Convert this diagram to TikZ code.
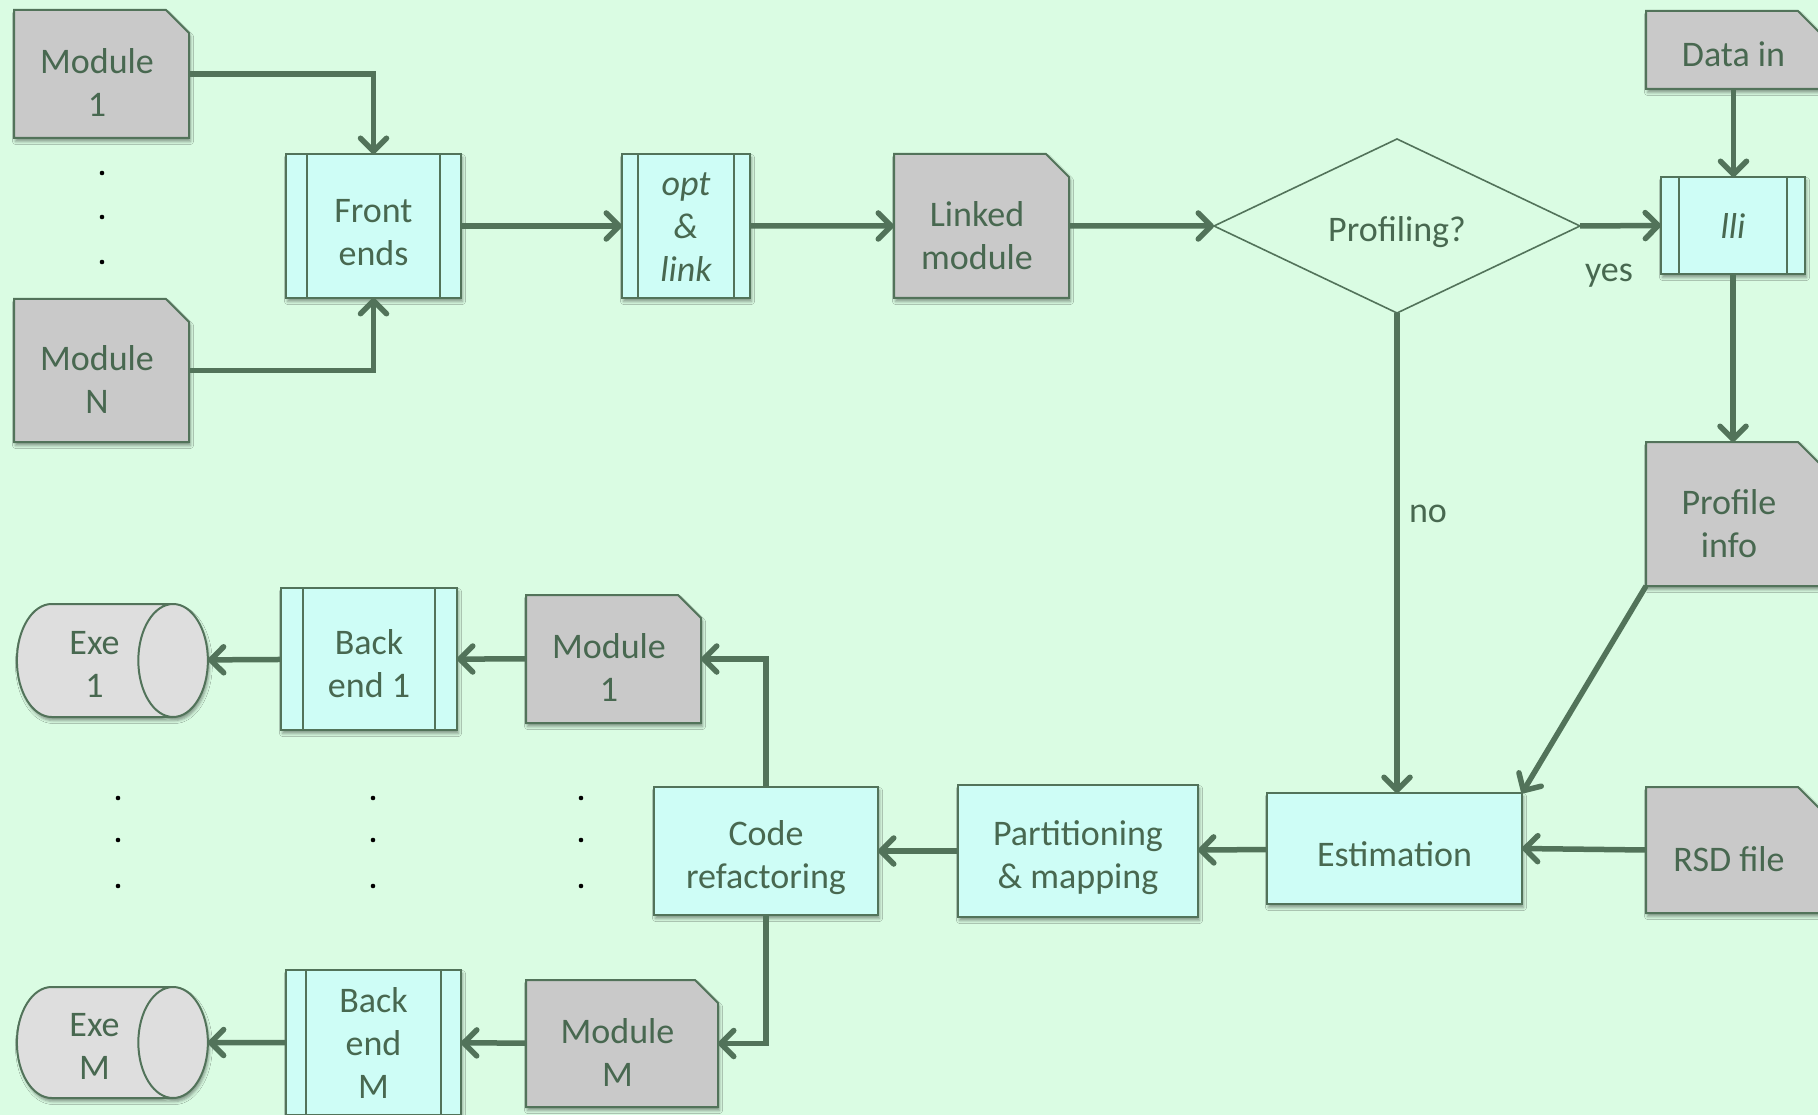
\documentclass[tikz,border=0pt]{standalone}
\usepackage{fontspec}
\setmainfont{Carlito}
\usetikzlibrary{arrows.meta,shapes.geometric,shapes.misc,shadows.blur}
\definecolor{bg}{RGB}{218,252,227}
\definecolor{ink}{RGB}{82,115,90}
\definecolor{txt}{RGB}{72,104,80}
\definecolor{procfill}{RGB}{206,253,246}
\definecolor{docfill}{RGB}{201,201,201}
\definecolor{exefill}{RGB}{222,222,222}
% invisible strut on a first line: pushes a text block down inside its box
\newcommand\liftby[1]{\rule{0pt}{#1}}
% invisible padding at a line end: moves document labels away from the folded corner
\newcommand\pad{\rule{9pt}{0pt}}
\begin{document}
\begin{tikzpicture}[x=1pt,y=-1pt,
  every node/.style={font=\fontsize{36}{43}\selectfont, text=txt, align=center, inner sep=0pt, outer sep=0pt},
  italic/.style={font=\fontsize{36}{43}\selectfont\itshape},
  dims/.style 2 args={minimum width=#1pt, minimum height=#2pt},
  boxshadow/.style={blur shadow={shadow xshift=1.5pt, shadow yshift=-3.5pt, shadow blur radius=3pt, shadow opacity=40}},
  procbox/.style={rectangle, draw=ink, line width=2pt, fill=procfill, boxshadow},
  subproc/.style={procbox, path picture={
      \draw[ink, line width=2pt]
        ([xshift=#1]path picture bounding box.north west) -- ([xshift=#1]path picture bounding box.south west)
        ([xshift=-#1]path picture bounding box.north east) -- ([xshift=-#1]path picture bounding box.south east);}},
  subproc/.default=20pt,
  docbox/.style={chamfered rectangle, chamfered rectangle corners=north east,
      chamfered rectangle xsep=11.5pt, chamfered rectangle ysep=11.5pt,
      draw=ink, line width=2pt, fill=docfill, boxshadow},
  storage/.style={cylinder, shape border rotate=0, aspect=0.94, draw=ink, line width=2pt, fill=exefill, boxshadow},
  decision/.style={diamond, aspect=2.1, draw=ink, line width=1.6pt},
  conn/.style={draw=ink, line width=5.5pt, -{Straight Barb[length=13pt,width=26pt,round]}},
  dotmark/.style={fill=black}
]
\useasboundingbox[fill=bg] (0,0) rectangle (1818,1115);

% front half of the tool flow
\node[docbox, dims={175}{128}] (modA) at (101.5,74) {\liftby{42pt}Module\pad\\1\pad};
\node[docbox, dims={175}{143}] (modN) at (101.5,370.5) {\liftby{42pt}Module\pad\\N\pad};
\node[subproc=21pt, dims={175}{144}] (front) at (373.5,226) {\liftby{36pt}Front\\ends};
\node[subproc=16pt, dims={128}{144}, italic] (optlink) at (686,226) {\liftby{26pt}opt\\\&\\link};
\node[docbox, dims={175}{144}] (linked) at (981.5,226) {\liftby{44pt}Linked\pad\\module\pad};
\node[decision, dims={366}{174}] (prof) at (1397,226) {\liftby{37pt}Profiling?};
\node[subproc=18pt, dims={144}{97}, italic] (lli) at (1733,225.5) {\liftby{27pt}lli};
\node[docbox, dims={175}{78}] (datain) at (1733.5,50) {\liftby{33pt}Data in};
\node[docbox, dims={175}{144}] (pinfo) at (1733.5,514) {\liftby{44pt}Profile\pad\\info\pad};
\node[docbox, dims={175}{126}] (rsd) at (1733.5,850) {\liftby{43pt}RSD file\pad};

% estimation and partitioning
\node[procbox, dims={255}{111}] (est) at (1394.5,848.5) {\liftby{36pt}Estimation};
\node[procbox, dims={240}{132}] (part) at (1078,851) {\liftby{38pt}Partitioning\\\& mapping};
\node[procbox, dims={224}{128}] (code) at (766,851) {\liftby{38pt}Code\\refactoring};

% back ends
\node[docbox, dims={175}{128}] (bmod1) at (613.5,659) {\liftby{42pt}Module\pad\\1\pad};
\node[docbox, dims={192}{127}] (bmodM) at (622,1043.5) {\liftby{42pt}Module\pad\\M\pad};
\node[subproc=22pt, dims={176}{142}] (back1) at (369,659) {\liftby{34pt}Back\\end 1};
\node[subproc=20pt, dims={175}{145}] (backM) at (373.5,1042.5) {Back\\end\\M};
\node[storage, dims={113}{191}] (exe1) at (94.5,660.5) {\liftby{31pt}Exe\\1};
\node[storage, dims={111}{191}] (exeM) at (94.5,1042.5) {\liftby{31pt}Exe\\M};

% branch labels
\node (yes) at (1609,276) {yes};
\node (no) at (1428,514) {no};

% connectors
\draw[conn] (modA.east) -| (front.north);
\draw[conn] (modN.east) -| (front.south);
\draw[conn] (front) -- (optlink);
\draw[conn] (optlink) -- (linked);
\draw[conn] (linked) -- (prof.west);
\draw[conn] (prof.east) -- (lli.west);
\draw[conn] (datain.south) -- (datain.south |- lli.north);
\draw[conn] (lli.south) -- (lli.south |- pinfo.north);
\draw[conn] (prof.south) -- (prof.south |- est.north);
\draw[conn] (pinfo.south west) -- (est.north east);
\draw[conn] (rsd.west) -- (est.east);
\draw[conn] (est) -- (part);
\draw[conn] (part) -- (code);
\draw[conn] (code.north) |- (bmod1.east);
\draw[conn] (code.south) |- (bmodM.east);
\draw[conn] (bmod1) -- (back1);
\draw[conn] (back1) -- (exe1);
\draw[conn] (bmodM) -- (backM);
\draw[conn] (backM) -- (exeM);

% ellipsis dots
\foreach \y in {173,217,262} \fill[dotmark] (102,\y) circle (2.3);
\foreach \x in {118,373,581}
  \foreach \y in {798,840,886} \fill[dotmark] (\x,\y) circle (2.3);
\end{tikzpicture}
\end{document}
